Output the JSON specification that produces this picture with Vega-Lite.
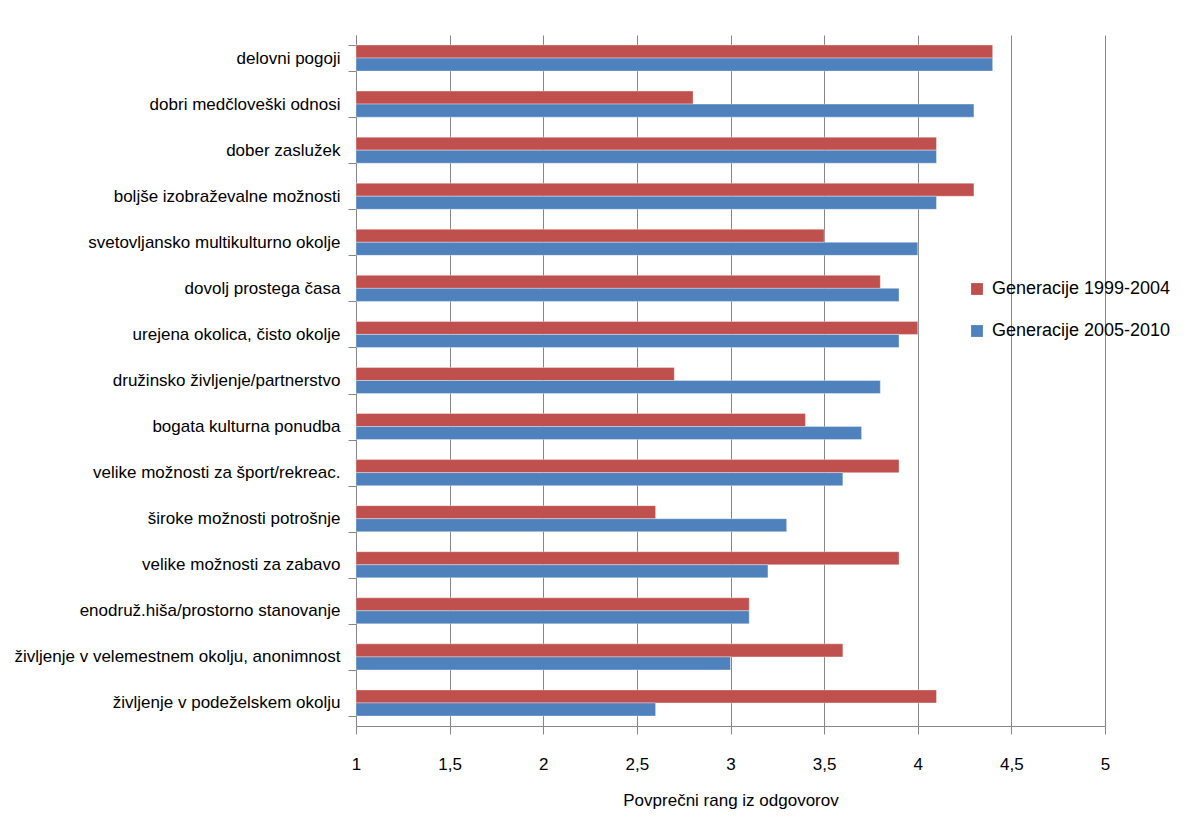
{
  "$schema": "https://vega.github.io/schema/vega-lite/v6.json",
  "width": 749,
  "height": 691,
  "autosize": {"type": "none"},
  "padding": {"left": 356, "top": 35, "right": 84, "bottom": 111},
  "background": "white",
  "config": {
    "view": {"stroke": null},
    "font": "Liberation Sans"
  },
  "data": {
    "values": [
      {"kat": "delovni pogoji", "gen": "Generacije 1999-2004", "v": 4.4},
      {"kat": "delovni pogoji", "gen": "Generacije 2005-2010", "v": 4.4},
      {"kat": "dobri medčloveški odnosi", "gen": "Generacije 1999-2004", "v": 2.8},
      {"kat": "dobri medčloveški odnosi", "gen": "Generacije 2005-2010", "v": 4.3},
      {"kat": "dober zaslužek", "gen": "Generacije 1999-2004", "v": 4.1},
      {"kat": "dober zaslužek", "gen": "Generacije 2005-2010", "v": 4.1},
      {"kat": "boljše izobraževalne možnosti", "gen": "Generacije 1999-2004", "v": 4.3},
      {"kat": "boljše izobraževalne možnosti", "gen": "Generacije 2005-2010", "v": 4.1},
      {"kat": "svetovljansko multikulturno okolje", "gen": "Generacije 1999-2004", "v": 3.5},
      {"kat": "svetovljansko multikulturno okolje", "gen": "Generacije 2005-2010", "v": 4.0},
      {"kat": "dovolj prostega časa", "gen": "Generacije 1999-2004", "v": 3.8},
      {"kat": "dovolj prostega časa", "gen": "Generacije 2005-2010", "v": 3.9},
      {"kat": "urejena okolica, čisto okolje", "gen": "Generacije 1999-2004", "v": 4.0},
      {"kat": "urejena okolica, čisto okolje", "gen": "Generacije 2005-2010", "v": 3.9},
      {"kat": "družinsko življenje/partnerstvo", "gen": "Generacije 1999-2004", "v": 2.7},
      {"kat": "družinsko življenje/partnerstvo", "gen": "Generacije 2005-2010", "v": 3.8},
      {"kat": "bogata kulturna ponudba", "gen": "Generacije 1999-2004", "v": 3.4},
      {"kat": "bogata kulturna ponudba", "gen": "Generacije 2005-2010", "v": 3.7},
      {"kat": "velike možnosti za šport/rekreac.", "gen": "Generacije 1999-2004", "v": 3.9},
      {"kat": "velike možnosti za šport/rekreac.", "gen": "Generacije 2005-2010", "v": 3.6},
      {"kat": "široke možnosti potrošnje", "gen": "Generacije 1999-2004", "v": 2.6},
      {"kat": "široke možnosti potrošnje", "gen": "Generacije 2005-2010", "v": 3.3},
      {"kat": "velike možnosti za zabavo", "gen": "Generacije 1999-2004", "v": 3.9},
      {"kat": "velike možnosti za zabavo", "gen": "Generacije 2005-2010", "v": 3.2},
      {"kat": "enodruž.hiša/prostorno stanovanje", "gen": "Generacije 1999-2004", "v": 3.1},
      {"kat": "enodruž.hiša/prostorno stanovanje", "gen": "Generacije 2005-2010", "v": 3.1},
      {"kat": "življenje v velemestnem okolju, anonimnost", "gen": "Generacije 1999-2004", "v": 3.6},
      {"kat": "življenje v velemestnem okolju, anonimnost", "gen": "Generacije 2005-2010", "v": 3.0},
      {"kat": "življenje v podeželskem okolju", "gen": "Generacije 1999-2004", "v": 4.1},
      {"kat": "življenje v podeželskem okolju", "gen": "Generacije 2005-2010", "v": 2.6}
    ]
  },
  "mark": {"type": "bar", "stroke": "white", "strokeOpacity": 0.35, "strokeWidth": 1},
  "encoding": {
    "y": {
      "field": "kat",
      "type": "nominal",
      "sort": null,
      "scale": {"paddingInner": 0.434, "paddingOuter": 0.217},
      "axis": {
        "title": null,
        "tickBand": "extent",
        "tickSize": 8,
        "tickColor": "#868686",
        "domainColor": "#868686",
        "labelFontSize": 17,
        "labelColor": "black",
        "labelPadding": 8,
        "labelLimit": 400,
        "grid": false
      }
    },
    "yOffset": {"field": "gen", "type": "nominal", "sort": ["Generacije 1999-2004", "Generacije 2005-2010"]},
    "x": {
      "field": "v",
      "type": "quantitative",
      "scale": {"domain": [1, 5], "zero": false, "nice": false},
      "axis": {
        "title": "Povprečni rang iz odgovorov",
        "titleFontSize": 17,
        "titleFontWeight": "normal",
        "titleColor": "black",
        "titlePadding": 20,
        "values": [1, 1.5, 2, 2.5, 3, 3.5, 4, 4.5, 5],
        "format": ".1~f",
        "labelExpr": "replace(datum.label, '.', ',')",
        "labelFontSize": 17,
        "labelColor": "black",
        "labelPadding": 22,
        "tickSize": 8,
        "tickColor": "#868686",
        "domainColor": "#868686",
        "grid": true,
        "gridColor": "#868686",
        "gridWidth": 1,
        "labelFlush": false
      }
    },
    "x2": {"datum": 1},
    "color": {
      "field": "gen",
      "type": "nominal",
      "sort": ["Generacije 1999-2004", "Generacije 2005-2010"],
      "scale": {"range": ["#C0504D", "#4F81BD"]},
      "legend": {
        "title": null,
        "orient": "none",
        "legendX": 612,
        "legendY": 245,
        "padding": 0,
        "symbolType": "square",
        "symbolSize": 140,
        "symbolStrokeWidth": 0,
        "labelFontSize": 18,
        "labelLimit": 400,
        "labelColor": "black",
        "rowPadding": 24,
        "labelOffset": 6
      }
    }
  }
}
